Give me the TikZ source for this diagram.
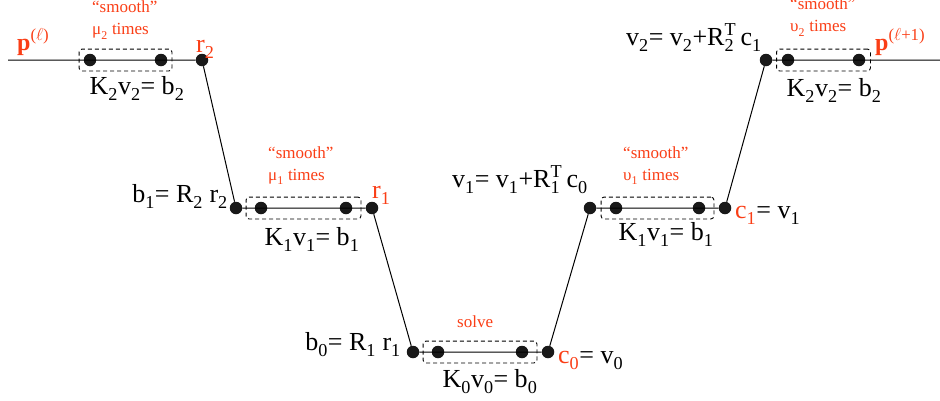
\documentclass[tikz,border=0pt]{standalone}
\usepackage{fontspec}
\setmainfont{Liberation Serif}
\usetikzlibrary{fit}
\definecolor{vred}{RGB}{250,62,22}
\newcommand{\lo}[1]{\raisebox{-0.25ex}{\textsubscript{#1}}}
\newcommand{\hiT}{\rlap{\textsuperscript{T}}}

\begin{document}
\begin{tikzpicture}[x=1pt,y=-1pt,
    dot/.style={circle,fill=black!90,inner sep=0pt,minimum size=12.5pt},
    smoothbox/.style={draw,dash pattern=on 4pt off 3pt,rounded corners=3pt,inner xsep=8.5pt,inner ysep=4.5pt,line width=0.9pt},
    eq/.style={font=\fontsize{26}{28}\selectfont,inner sep=0pt},
    tag/.style={eq,text=vred},
    note/.style={font=\fontsize{17}{22}\selectfont,text=vred,align=left,inner sep=0pt},
    level/.style={line width=1pt}]
    \useasboundingbox (0,0) rectangle (940,400);

    % V-cycle: grid levels, top (2) to coarse (0) and back
    \coordinate (pin) at (8,60);
    \node[dot] (d21) at (90,60) {};
    \node[dot] (d22) at (161,60) {};
    \node[dot] (r2) at (202,60) {};
    \node[dot] (b1) at (236,208) {};
    \node[dot] (d11) at (261,208) {};
    \node[dot] (d12) at (346,208) {};
    \node[dot] (r1) at (372,208) {};
    \node[dot] (b0) at (413,352) {};
    \node[dot] (d01) at (438,352) {};
    \node[dot] (d02) at (522,352) {};
    \node[dot] (c0) at (548,352) {};
    \node[dot] (v1) at (590,208) {};
    \node[dot] (e11) at (616,208) {};
    \node[dot] (e12) at (699,208) {};
    \node[dot] (c1) at (725,208) {};
    \node[dot] (v2) at (766,60) {};
    \node[dot] (e21) at (788,60) {};
    \node[dot] (e22) at (859,60) {};
    \coordinate (pout) at (940,60);

    \draw[level] (pin) -- (r2) -- (b1) -- (r1) -- (b0) -- (c0) -- (v1) -- (c1) -- (v2) -- (pout);

    \node[smoothbox,inner xsep=4.5pt,fit=(d21)(d22)] (box2) {};
    \node[smoothbox,fit=(d11)(d12)] (box1) {};
    \node[smoothbox,fit=(d01)(d02)] (box0) {};
    \node[smoothbox,fit=(e11)(e12)] (ubox1) {};
    \node[smoothbox,inner xsep=5pt,fit=(e21)(e22)] (ubox2) {};

    % smoothing notes
    \node[note,anchor=north west] (n2) at (92,1) {``smooth''\\μ\lo{2} times};
    \node[note,anchor=north west] (n1) at (268,146) {``smooth''\\μ\lo{1} times};
    \node[note,anchor=base west] (n0) at (457,327) {solve};
    \node[note,anchor=north west] (m1) at (623,146) {``smooth''\\υ\lo{1} times};
    \node[note,anchor=north west] (m2) at (790,-2) {``smooth''\\υ\lo{2} times};

    % equations
    \node[eq,anchor=base] (k2) at (137,94) {K\lo{2}v\lo{2}= b\lo{2}};
    \node[eq,anchor=base east] (rb1) at (228,202) {b\lo{1}= R\lo{2} r\lo{2}};
    \node[eq,anchor=base] (k1) at (312,245) {K\lo{1}v\lo{1}= b\lo{1}};
    \node[eq,anchor=base east] (rb0) at (401,350) {b\lo{0}= R\lo{1} r\lo{1}};
    \node[eq,anchor=base] (k0) at (490,387) {K\lo{0}v\lo{0}= b\lo{0}};
    \node[eq,anchor=base west] (cv0) at (558,363) {\textcolor{vred}{c\lo{0}}= v\lo{0}};
    \node[eq,anchor=base east] (pv1) at (588,187) {v\lo{1}= v\lo{1}+R\hiT\lo{1} c\lo{0}};
    \node[eq,anchor=base] (kk1) at (666,240) {K\lo{1}v\lo{1}= b\lo{1}};
    \node[eq,anchor=base west] (cv1) at (735,218) {\textcolor{vred}{c\lo{1}}= v\lo{1}};
    \node[eq,anchor=base east] (pv2) at (762,45) {v\lo{2}= v\lo{2}+R\hiT\lo{2} c\lo{1}};
    \node[eq,anchor=base] (kk2) at (834,96) {K\lo{2}v\lo{2}= b\lo{2}};

    % residual labels and iterates
    \node[tag,anchor=base west] (tr2) at (196,52) {r\lo{2}};
    \node[tag,anchor=base west] (tr1) at (372,198) {r\lo{1}};
    \node[tag,font=\fontsize{24}{26}\selectfont,anchor=base west] (pl) at (17,50) {\textbf{p}\textsuperscript{($\ell$)}};
    \node[tag,font=\fontsize{24}{26}\selectfont,anchor=base west] (pl1) at (875,50) {\textbf{p}\textsuperscript{($\ell$+1)}};
\end{tikzpicture}
\end{document}
